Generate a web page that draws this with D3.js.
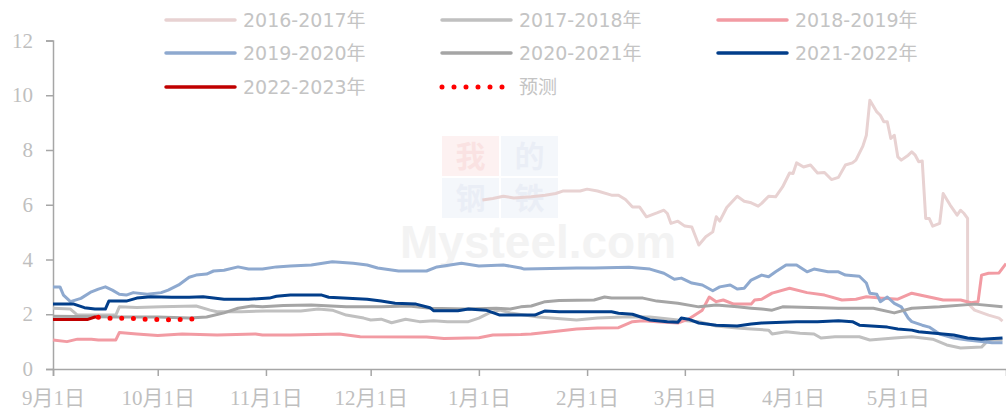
<!DOCTYPE html>
<html lang="zh">
<head>
<meta charset="UTF-8">
<title>库存比</title>
<script src="https://d3js.org/d3.v7.min.js"></script>
<style>
  html, body { margin: 0; padding: 0; background: #fff; }
  svg { display: block; }
  .axis text { font-family: "Liberation Serif", "Noto Sans CJK SC", serif; fill: #bfbfbf; }
  .legend text { font-family: "DejaVu Sans", "Noto Sans CJK SC", sans-serif; fill: #c4c4c4; font-size: 19px; }
</style>
</head>
<body>
<svg width="1006" height="414"></svg>
<script>
// series, each point is [month/day, value]; Sep-Dec belong to the first year
const s2016 = [["1/2",6.17],["1/5",6.23],["1/8",6.31],["1/11",6.25],["1/16",6.29],["1/20",6.35],["1/23",6.41],["1/25",6.5],["1/30",6.5],["2/1",6.57],["2/4",6.5],["2/8",6.35],["2/10",6.35],["2/12",6.19],["2/14",5.92],["2/16",5.92],["2/18",5.56],["2/21",5.7],["2/23",5.8],["2/24",5.68],["2/25",5.32],["2/27",5.4],["3/1",5.22],["3/3",5.19],["3/5",4.53],["3/7",4.83],["3/9",5.01],["3/10",5.56],["3/11",5.4],["3/13",5.9],["3/16",6.31],["3/18",6.13],["3/20",6.07],["3/22",5.95],["3/23",6.05],["3/25",6.31],["3/27",6.29],["3/29",6.65],["3/31",7.16],["4/1",7.14],["4/2",7.53],["4/4",7.38],["4/6",7.45],["4/8",7.16],["4/10",7.18],["4/12",6.92],["4/14",7.0],["4/16",7.45],["4/18",7.53],["4/19",7.63],["4/21",8.14],["4/22",8.54],["4/23",9.82],["4/25",9.39],["4/26",9.27],["4/27",9.03],["4/28",9.03],["4/29",8.42],["4/30",8.54],["5/1",7.75],["5/2",7.63],["5/4",7.81],["5/5",7.93],["5/6",7.81],["5/7",7.57],["5/8",7.6],["5/9",5.5],["5/10",5.5],["5/11",5.22],["5/13",5.32],["5/14",6.41],["5/16",5.99],["5/18",5.62],["5/19",5.8],["5/20",5.68],["5/21",5.5],["5/21",2.4],["5/23",2.15],["5/27",1.97],["5/30",1.86],["5/31",1.75]];
const s2017 = [["9/1",2.22],["9/6",2.19],["9/8",1.97],["9/19",1.97],["9/20",2.27],["9/25",2.25],["10/2",2.27],["10/12",2.3],["10/16",2.15],["10/18",2.09],["10/25",2.09],["11/1",2.12],["11/11",2.12],["11/16",2.19],["11/20",2.15],["11/24",1.97],["11/29",1.86],["12/1",1.79],["12/4",1.82],["12/7",1.69],["12/11",1.82],["12/15",1.73],["12/19",1.76],["12/23",1.73],["12/29",1.73],["1/1",1.86],["1/4",2.05],["1/7",2.15],["1/10",2.05],["1/14",1.97],["1/18",1.9],["1/29",1.79],["2/4",1.86],["2/13",1.91],["2/19",1.9],["2/27",1.79],["3/5",1.73],["3/10",1.57],["3/16",1.5],["3/20",1.46],["3/25",1.42],["3/26",1.28],["3/30",1.36],["4/3",1.31],["4/7",1.28],["4/9",1.13],["4/13",1.18],["4/20",1.18],["4/23",1.06],["4/30",1.13],["5/5",1.18],["5/11",1.09],["5/15",0.88],["5/19",0.77],["5/25",0.8],["5/27",1.06],["5/31",1.06]];
const s2018 = [["9/1",1.06],["9/5",1.0],["9/8",1.09],["9/12",1.09],["9/14",1.06],["9/19",1.06],["9/20",1.33],["9/25",1.28],["10/1",1.22],["10/8",1.28],["10/18",1.24],["10/29",1.28],["10/31",1.24],["11/8",1.24],["11/22",1.28],["11/28",1.18],["12/17",1.17],["12/22",1.11],["1/1",1.14],["1/5",1.24],["1/13",1.26],["1/16",1.28],["1/22",1.36],["1/29",1.46],["2/4",1.5],["2/10",1.51],["2/14",1.73],["2/17",1.76],["2/21",1.73],["2/27",1.68],["3/2",1.82],["3/6",2.15],["3/8",2.63],["3/10",2.46],["3/12",2.52],["3/15",2.37],["3/20",2.37],["3/21",2.52],["3/23",2.55],["3/26",2.77],["3/31",2.95],["4/5",2.79],["4/10",2.7],["4/15",2.52],["4/19",2.55],["4/22",2.64],["4/26",2.59],["5/1",2.55],["5/5",2.77],["5/9",2.66],["5/14",2.52],["5/19",2.52],["5/22",2.42],["5/24",2.46],["5/25",3.43],["5/27",3.5],["5/30",3.51],["6/1",3.85]];
const s2019 = [["9/1",3.0],["9/3",3.0],["9/4",2.7],["9/6",2.46],["9/9",2.58],["9/12",2.82],["9/14",2.92],["9/16",3.0],["9/18",2.88],["9/20",2.73],["9/22",2.7],["9/24",2.79],["9/28",2.73],["10/2",2.79],["10/4",2.88],["10/7",3.07],["10/10",3.35],["10/12",3.43],["10/15",3.47],["10/17",3.58],["10/20",3.61],["10/24",3.73],["10/27",3.65],["10/31",3.65],["11/4",3.73],["11/8",3.76],["11/14",3.8],["11/20",3.92],["11/26",3.86],["11/30",3.8],["12/3",3.69],["12/9",3.58],["12/17",3.58],["12/20",3.73],["12/27",3.86],["1/1",3.76],["1/8",3.8],["1/13",3.69],["1/14",3.65],["1/29",3.69],["2/3",3.69],["2/13",3.72],["2/19",3.65],["2/23",3.5],["2/26",3.28],["2/28",3.32],["3/3",3.14],["3/6",3.07],["3/9",2.86],["3/11",3.0],["3/14",3.07],["3/16",2.92],["3/18",2.95],["3/20",3.25],["3/23",3.43],["3/25",3.37],["3/27",3.55],["3/30",3.8],["4/2",3.8],["4/5",3.55],["4/7",3.65],["4/11",3.55],["4/14",3.55],["4/16",3.43],["4/20",3.39],["4/22",3.14],["4/23",2.77],["4/25",2.73],["4/26",2.46],["4/28",2.63],["4/30",2.4],["5/2",2.27],["5/4",1.86],["5/5",1.73],["5/8",1.6],["5/10",1.53],["5/13",1.28],["5/17",1.13],["5/21",1.06],["5/25",1.0],["5/28",0.96],["5/31",0.96]];
const s2020 = [["9/1",1.93],["9/20",1.9],["10/1",1.9],["10/10",1.86],["10/15",1.9],["10/20",2.05],["10/24",2.22],["10/28",2.3],["10/31",2.27],["11/6",2.32],["11/14",2.34],["11/24",2.27],["12/4",2.27],["12/12",2.3],["12/18",2.22],["12/28",2.19],["1/6",2.22],["1/10",2.19],["1/13",2.27],["1/16",2.3],["1/20",2.46],["1/24",2.5],["2/3",2.52],["2/6",2.63],["2/8",2.59],["2/17",2.59],["2/21",2.48],["2/27",2.4],["3/5",2.27],["3/10",2.34],["3/16",2.27],["3/20",2.22],["3/23",2.19],["3/26",2.15],["3/29",2.27],["4/6",2.25],["4/14",2.22],["4/24",2.22],["4/30",2.05],["5/5",2.22],["5/13",2.27],["5/23",2.37],["5/31",2.27]];
const s2021 = [["9/1",2.37],["9/7",2.37],["9/10",2.24],["9/13",2.19],["9/16",2.19],["9/17",2.48],["9/22",2.48],["9/25",2.59],["9/29",2.64],["10/5",2.62],["10/10",2.62],["10/14",2.64],["10/20",2.55],["10/27",2.55],["11/2",2.59],["11/4",2.66],["11/8",2.7],["11/17",2.7],["11/19",2.62],["11/30",2.55],["12/4",2.48],["12/8",2.4],["12/14",2.37],["12/18",2.24],["12/19",2.13],["12/26",2.13],["12/29",2.19],["1/3",2.15],["1/7",1.97],["1/17",1.97],["1/20",2.12],["1/24",2.09],["2/8",2.09],["2/10",2.04],["2/14",2.0],["2/19",1.79],["2/24",1.73],["2/27",1.71],["2/28",1.86],["3/2",1.82],["3/5",1.68],["3/10",1.6],["3/16",1.57],["3/20",1.64],["3/23",1.68],["4/2",1.73],["4/8",1.73],["4/14",1.76],["4/18",1.73],["4/20",1.6],["4/28",1.53],["5/1",1.46],["5/5",1.42],["5/7",1.36],["5/17",1.24],["5/21",1.13],["5/25",1.09],["5/31",1.13]];
const s2022 = [["9/1",1.81],["9/11",1.81],["9/13",1.9],["9/14",1.9]];
const forecast = [["9/14",1.89],["9/18",1.85],["9/21",1.85],["9/25",1.84],["9/28",1.81],["10/1",1.81],["10/5",1.79],["10/8",1.81],["10/12",1.84]];

const seriesNames = ["2016-2017年","2017-2018年","2018-2019年","2019-2020年","2020-2021年","2021-2022年","2022-2023年","预测"];
const seriesColors = ["#e8d2d2","#c0c0c0","#f29ba3","#8ea9cf","#a5a5a5","#023e8a","#c00000","#ff0000"];
const seriesData = [s2016, s2017, s2018, s2019, s2020, s2021, s2022, forecast];
const monthTicks = ["9/1","10/1","11/1","12/1","1/1","2/1","3/1","4/1","5/1"];
const yTicks = [0, 2, 4, 6, 8, 10, 12];

function toDate(md) {
  const [m, d] = md.split("/").map(Number);
  return new Date(m >= 9 ? 2018 : 2019, m - 1, d);
}

const svg = d3.select("svg");
const margin = {top: 40.5, right: 0, bottom: 45, left: 53};
const width = 1006, height = 414;

const x = d3.scaleTime()
  .domain([toDate("9/1"), toDate("6/1")])
  .range([margin.left, width - margin.right]);
const y = d3.scaleLinear()
  .domain([0, 12])
  .range([height - margin.bottom, margin.top]);

// faint watermark
const wm = svg.append("g").attr("opacity", 0.4);
[["我", 442, 136, "#fbdede", "#f3b9b9"], ["的", 501, 136, "#e6ecf6", "#cdd7ea"],
 ["钢", 442, 178, "#e6ecf6", "#cdd7ea"], ["铁", 501, 178, "#e6ecf6", "#cdd7ea"]].forEach(b => {
  wm.append("rect").attr("x", b[1]).attr("y", b[2]).attr("width", 57).attr("height", 40).attr("fill", b[3]);
  wm.append("text").attr("x", b[1] + 28.5).attr("y", b[2] + 31).attr("text-anchor", "middle")
    .style("font-family", "Noto Sans CJK SC").style("font-size", "30px").style("font-weight", "bold")
    .attr("fill", b[4]).text(b[0]);
});
wm.append("text").attr("x", 400).attr("y", 258)
  .style("font-family", "Liberation Sans, sans-serif").style("font-size", "46px").style("font-weight", "bold")
  .attr("fill", "#e2e2e2").text("Mysteel.com");

// axes
const gx = svg.append("g").attr("class", "axis")
  .attr("transform", `translate(0,${y(0)})`)
  .call(d3.axisBottom(x)
    .tickValues(monthTicks.map(toDate))
    .tickSize(7)
    .tickFormat(d => `${d.getMonth() + 1}月${d.getDate()}日`));
gx.select(".domain").attr("stroke", "#a6a6a6").attr("stroke-width", 1.5);
gx.selectAll(".tick line").attr("stroke", "#a6a6a6").attr("stroke-width", 1.5);
gx.selectAll(".tick text").attr("dy", "1.25em").style("font-size", "21px");

const gy = svg.append("g").attr("class", "axis")
  .attr("transform", `translate(${margin.left},0)`)
  .call(d3.axisLeft(y).tickValues(yTicks).tickSize(7).tickSizeOuter(7).tickPadding(13));
gy.select(".domain").attr("stroke", "#a6a6a6").attr("stroke-width", 1.5);
gy.selectAll(".tick line").attr("stroke", "#a6a6a6").attr("stroke-width", 1.5);
gy.selectAll(".tick text").style("font-size", "21px");

// lines
const line = d3.line()
  .x(d => x(toDate(d[0])))
  .y(d => y(d[1]));

seriesData.forEach((data, i) => {
  const p = svg.append("path")
    .datum(data)
    .attr("fill", "none")
    .attr("stroke", seriesColors[i])
    .attr("stroke-linejoin", "round")
    .attr("d", line);
  if (seriesNames[i] === "预测") {
    p.attr("stroke-width", 5).attr("stroke-linecap", "round").attr("stroke-dasharray", "0 11.7");
  } else {
    p.attr("stroke-width", 3);
  }
});

// legend
const legend = svg.append("g").attr("class", "legend");
const colX = [166, 442, 718];
const rowY = [20, 53, 87];
seriesNames.forEach((name, i) => {
  const cx = colX[i % 3], cy = rowY[Math.floor(i / 3)];
  const isDot = name === "预测";
  legend.append("line")
    .attr("x1", cx).attr("x2", cx + 69).attr("y1", cy).attr("y2", cy)
    .attr("stroke", seriesColors[i])
    .attr("stroke-width", isDot ? 5 : 3.5)
    .attr("stroke-linecap", "round")
    .attr("stroke-dasharray", isDot ? "0 12" : null);
  legend.append("text")
    .attr("x", cx + 77).attr("y", cy)
    .attr("dy", "0.36em")
    .text(name);
});
</script>
</body>
</html>
